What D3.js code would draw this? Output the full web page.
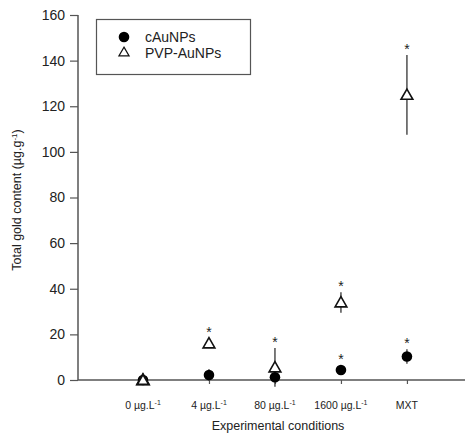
<!DOCTYPE html>
<html><head><meta charset="utf-8">
<script src="https://cdn.jsdelivr.net/npm/d3@7"></script>
<style>body{margin:0;background:#fff}svg{display:block;font-family:"Liberation Sans",Arial,sans-serif}</style>
</head><body><svg id="c" width="465" height="434"></svg>
<script>
const categories = ["0 µg.L", "4 µg.L", "80 µg.L", "1600 µg.L", "MXT"];
const catSup = ["-1", "-1", "-1", "-1", ""];
const cAuValues = [0, 2.2, 1.2, 4.4, 10.3];
const cAuErrors = [0, 2.5, 0.5, 0.8, 3.2];
const cAuStar = [false, false, false, true, true];
const pvpValues = [0, 16, 5.5, 34, 125];
const pvpErrors = [0, 0.5, 8.5, 4.5, 17.5];
const pvpStar = [false, true, true, true, true];
const yTicks = [0, 20, 40, 60, 80, 100, 120, 140, 160];
const legendLabels = ["cAuNPs", "PVP-AuNPs"];

const svg = d3.select("#c");
const x = d3.scaleLinear().domain([0, 5.88]).range([77, 465]);
const y = d3.scaleLinear().domain([0, 160]).range([380, 15]);
const axisColor = "#555";

// Y axis
const yAxis = svg.append("g").attr("transform", "translate(78,0)")
  .call(d3.axisLeft(y).tickValues(yTicks).tickSize(8).tickPadding(5));
yAxis.select(".domain").attr("stroke", axisColor).attr("stroke-width", 1.5).attr("d", `M0,${y(0)}V${y(160)}`);
yAxis.selectAll(".tick line").attr("stroke", axisColor).attr("stroke-width", 1.2);
yAxis.selectAll(".tick text").attr("font-size", 14).attr("fill", "#222").attr("font-family", "Liberation Sans, Arial, sans-serif");

// X axis
const xAxis = svg.append("g").attr("transform", `translate(0,${y(0)})`)
  .call(d3.axisBottom(x).tickValues([1,2,3,4,5]).tickSize(4).tickFormat(""));
xAxis.select(".domain").attr("stroke", axisColor).attr("stroke-width", 1.5).attr("d", `M78,0H465`);
xAxis.selectAll(".tick line").attr("stroke", axisColor).attr("stroke-width", 1.2);

// x labels with superscripts
categories.forEach((c, i) => {
  const t = svg.append("text").attr("x", x(i + 1)).attr("y", 409)
    .attr("text-anchor", "middle").attr("font-size", 10.5).attr("fill", "#222");
  t.append("tspan").text(c);
  if (catSup[i]) t.append("tspan").attr("dy", -4).attr("font-size", 7).text(catSup[i]);
});

// Axis titles
svg.append("text").attr("x", 278).attr("y", 430).attr("text-anchor", "middle")
  .attr("font-size", 12.5).attr("fill", "#222").text("Experimental conditions");
const yt = svg.append("text").attr("transform", "translate(21,200) rotate(-90)")
  .attr("text-anchor", "middle").attr("font-size", 12.5).attr("fill", "#222");
yt.append("tspan").text("Total gold content (µg.g");
yt.append("tspan").attr("dy", -4).attr("font-size", 8).text("-1");
yt.append("tspan").attr("dy", 4).text(")");

const idx = categories.map((_, i) => i);
const tri = d3.symbol().type(d3.symbolTriangle).size(60);

// Error bars
function errBars(vals, errs) {
  svg.append("g").selectAll("line").data(idx.filter(i => errs[i] > 0)).join("line")
    .attr("x1", i => x(i + 1)).attr("x2", i => x(i + 1))
    .attr("y1", i => y(vals[i] - errs[i])).attr("y2", i => y(vals[i] + errs[i]))
    .attr("stroke", "#333").attr("stroke-width", 1.3);
}
errBars(pvpValues, pvpErrors);
errBars(cAuValues, cAuErrors);

// PVP triangles
svg.append("g").selectAll("path").data(idx).join("path")
  .attr("d", tri).attr("transform", i => `translate(${x(i + 1)},${y(pvpValues[i]) + 1})`)
  .attr("fill", "#fff").attr("stroke", "#111").attr("stroke-width", 1.6);
// cAu dots
svg.append("g").selectAll("circle").data(idx).join("circle")
  .attr("cx", i => x(i + 1)).attr("cy", i => y(cAuValues[i])).attr("r", 5.3).attr("fill", "#000");
// triangle at 0 drawn on top (as in reference)
svg.append("path").attr("d", tri).attr("transform", `translate(${x(1)},${y(pvpValues[0]) + 1})`)
  .attr("fill", "#fff").attr("stroke", "#111").attr("stroke-width", 2);

// Stars
function stars(vals, errs, flags, half) {
  svg.append("g").selectAll("text").data(idx.filter(i => flags[i])).join("text")
    .attr("x", i => x(i + 1))
    .attr("y", i => Math.min(y(vals[i] + errs[i]), y(vals[i]) - half) - 1)
    .attr("text-anchor", "middle").attr("font-size", 14).attr("fill", "#222").text("*");
}
stars(pvpValues, pvpErrors, pvpStar, 6);
stars(cAuValues, cAuErrors, cAuStar, 5);

// Legend
const lg = svg.append("g");
lg.append("rect").attr("x", 96.5).attr("y", 19.5).attr("width", 154).attr("height", 55)
  .attr("fill", "#fff").attr("stroke", "#555").attr("stroke-width", 1.2);
lg.append("circle").attr("cx", 124).attr("cy", 37).attr("r", 5.3).attr("fill", "#000");
lg.append("path").attr("d", d3.symbol().type(d3.symbolTriangle).size(45)).attr("transform", "translate(124,53)")
  .attr("fill", "#fff").attr("stroke", "#111").attr("stroke-width", 1.2);
legendLabels.forEach((l, i) => {
  lg.append("text").attr("x", 145).attr("y", 42 + i * 15.5).attr("font-size", 14)
    .attr("fill", "#222").text(l);
});
</script></body></html>
